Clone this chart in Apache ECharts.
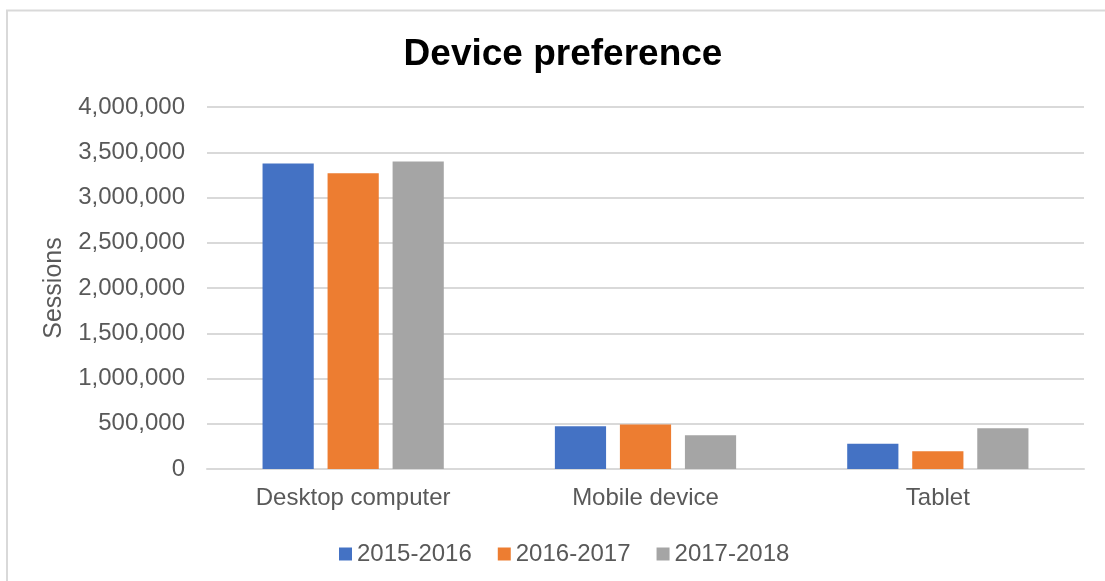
<!DOCTYPE html>
<html>
<head>
<meta charset="utf-8">
<style>
  html, body { margin: 0; padding: 0; background: #ffffff; }
  #chart { width: 1105px; height: 581px; }
</style>
<script src="https://cdn.jsdelivr.net/npm/echarts@6/dist/echarts.min.js"></script>
</head>
<body>
<div id="chart"></div>
<script>
// Sessions by device type, per academic year
const categories = ['Desktop computer', 'Mobile device', 'Tablet'];
const seriesNames = ['2015-2016', '2016-2017', '2017-2018'];
const sessions2015_2016 = [3375000, 471000, 279000];
const sessions2016_2017 = [3268000, 493000, 195000];
const sessions2017_2018 = [3397000, 372000, 449000];
const yTicks = [0, 500000, 1000000, 1500000, 2000000, 2500000, 3000000, 3500000, 4000000];

const colors = ['#4472C4', '#ED7D31', '#A5A5A5'];
const seriesValues = [sessions2015_2016, sessions2016_2017, sessions2017_2018];
const font = 'Liberation Sans, Arial, sans-serif';
const textGray = '#595959';

const chart = echarts.init(document.getElementById('chart'), null, { renderer: 'canvas' });

chart.setOption({
  animation: false,
  color: colors,
  title: {
    text: 'Device preference',
    left: 558,
    textAlign: 'center',
    top: 31,
    textStyle: { fontFamily: font, fontSize: 37, fontWeight: 'bold', color: '#000000' }
  },
  graphic: [{
    type: 'rect',
    shape: { x: 7, y: 10.5, width: 1200, height: 700 },
    style: { fill: 'none', stroke: '#D9D9D9', lineWidth: 2 },
    silent: true,
    z: -1
  }],
  legend: {
    data: seriesNames,
    left: 339,
    top: 542,
    padding: 0,
    itemWidth: 13,
    itemHeight: 13,
    itemGap: 26,
    icon: 'rect',
    textStyle: { fontFamily: font, fontSize: 24, color: textGray }
  },
  grid: {
    left: 207,
    right: 21,
    top: 107,
    bottom: 112,
    containLabel: false
  },
  xAxis: {
    type: 'category',
    data: categories,
    axisLine: { lineStyle: { color: '#D9D9D9', width: 2 } },
    axisTick: { show: false },
    axisLabel: { fontFamily: font, fontSize: 24, color: textGray, margin: 17 }
  },
  yAxis: {
    type: 'value',
    min: yTicks[0],
    max: yTicks[yTicks.length - 1],
    interval: yTicks[1] - yTicks[0],
    name: 'Sessions',
    nameLocation: 'middle',
    nameGap: 140,
    nameTextStyle: { fontFamily: font, fontSize: 25, color: textGray },
    axisLine: { show: false },
    axisTick: { show: false },
    splitLine: { lineStyle: { color: '#D9D9D9', width: 2 } },
    axisLabel: {
      fontFamily: font, fontSize: 24, color: textGray, margin: 22,
      formatter: v => v.toLocaleString('en-US')
    }
  },
  series: seriesNames.map((name, i) => ({
    name,
    type: 'bar',
    data: seriesValues[i],
    barGap: '27%',
    barCategoryGap: '38%',
    itemStyle: { color: colors[i] }
  }))
});
</script>
</body>
</html>
